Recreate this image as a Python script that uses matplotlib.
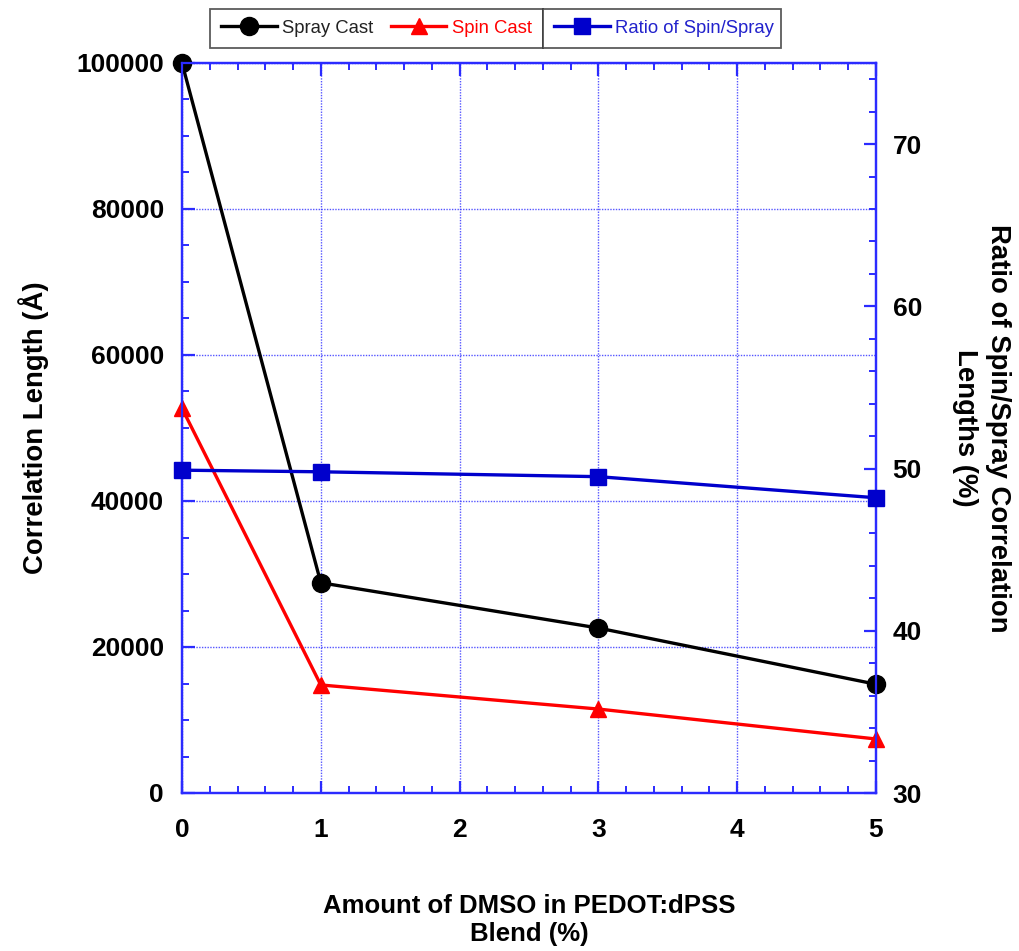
import matplotlib.pyplot as plt
from matplotlib.ticker import MultipleLocator

plt.rcParams['font.family'] = ['Liberation Sans', 'DejaVu Sans']

dmso = [0, 1, 3, 5]
spray_cast = [100000, 28800, 22600, 14900]
spin_cast = [52700, 14800, 11500, 7400]
ratio = [49.9, 49.8, 49.5, 48.2]

axis_blue = '#2b2bff'

fig = plt.figure(figsize=(10.19, 9.51), dpi=100)
ax = fig.add_axes([182/1019, 1 - 793/951, (876-182)/1019, (793-63)/951])
ax2 = ax.twinx()

l1, = ax.plot(dmso, spray_cast, color='black', lw=2.4, marker='o', ms=13,
              label='Spray Cast', clip_on=False, zorder=5)
l2, = ax.plot(dmso, spin_cast, color='red', lw=2.4, marker='^', ms=12,
              label='Spin Cast', clip_on=False, zorder=5)
l3, = ax2.plot(dmso, ratio, color='#0000cc', lw=2.4, marker='s', ms=12,
               label='Ratio of Spin/Spray', clip_on=False, zorder=5)

ax.set_xlim(0, 5)
ax.set_ylim(0, 100000)
ax2.set_ylim(30, 75)

ax.xaxis.set_major_locator(MultipleLocator(1))
ax.xaxis.set_minor_locator(MultipleLocator(0.2))
ax.yaxis.set_major_locator(MultipleLocator(20000))
ax.yaxis.set_minor_locator(MultipleLocator(5000))
ax2.yaxis.set_major_locator(MultipleLocator(10))
ax2.yaxis.set_minor_locator(MultipleLocator(2))

ax.grid(True, which='major', color=axis_blue, ls=(0, (1, 1)), lw=1.0, alpha=0.8)

for a in (ax, ax2):
    for s in a.spines.values():
        s.set_color(axis_blue)
        s.set_linewidth(1.6)
ax.tick_params(which='both', direction='in', color=axis_blue, top=True, labelsize=19)
ax.tick_params(axis='x', pad=18)
ax.tick_params(axis='y', pad=13)
ax.tick_params(which='major', length=9, width=1.6)
ax.tick_params(which='minor', length=5, width=1.4)
ax2.tick_params(which='both', direction='in', color=axis_blue, labelsize=19, pad=12)
ax2.tick_params(which='major', length=9, width=1.6)
ax2.tick_params(which='minor', length=5, width=1.4)
for lab in ax.get_xticklabels() + ax.get_yticklabels() + ax2.get_yticklabels():
    lab.set_fontweight('bold')

ax.set_ylabel('Correlation Length (Å)', fontsize=19.8, fontweight='bold')
ax.yaxis.set_label_coords(-0.192, 0.5)
ax2.set_ylabel('Ratio of Spin/Spray Correlation\nLengths (%)', fontsize=19.8,
               fontweight='bold', rotation=270, linespacing=1.35)
ax2.yaxis.set_label_coords(1.194, 0.5)
ax.set_xlabel('Amount of DMSO in PEDOT:dPSS\nBlend (%)', fontsize=18.5,
              fontweight='bold', linespacing=1.25)
ax.xaxis.set_label_coords(0.5, -0.138)

leg_kw = dict(loc='lower left', mode='expand', fontsize=13.3, frameon=True,
              fancybox=False, edgecolor='#333333', handlelength=3.0,
              handletextpad=0.3, borderaxespad=0, borderpad=0.6)
leg1 = fig.legend(handles=[l1, l2], ncol=2, columnspacing=1.0,
                  bbox_to_anchor=(210/1019, 1 - 48/951, (543-210)/1019, 40/951),
                  **leg_kw)
leg1.get_frame().set_linewidth(1.3)
for txt, c in zip(leg1.get_texts(), ['#222222', 'red']):
    txt.set_color(c)

leg2 = fig.legend(handles=[l3],
                  bbox_to_anchor=(543/1019, 1 - 48/951, (781-543)/1019, 40/951),
                  **leg_kw)
leg2.get_frame().set_linewidth(1.3)
leg2.get_texts()[0].set_color('#2222cc')

fig.savefig('out.png', dpi=100)
